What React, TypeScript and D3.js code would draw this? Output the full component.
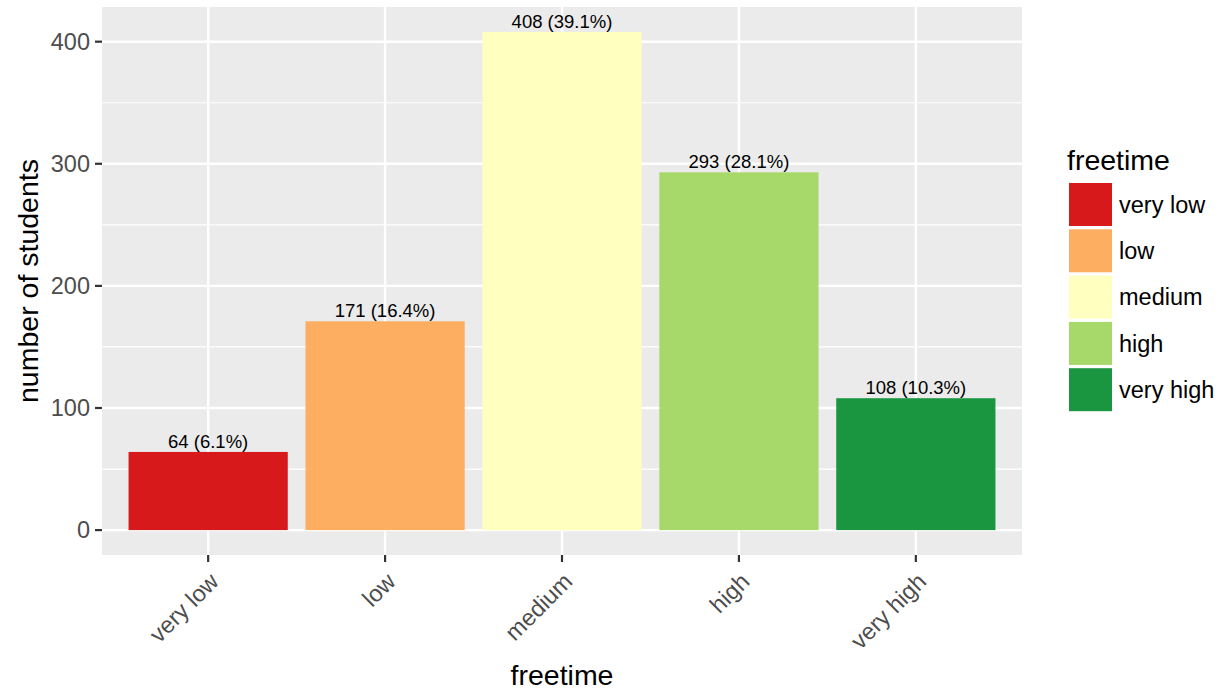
import React from "react";
import * as d3 from "d3";

const categories = ["very low", "low", "medium", "high", "very high"];
const counts = [64, 171, 408, 293, 108];
const percents = ["6.1%", "16.4%", "39.1%", "28.1%", "10.3%"];
const colors = ["#d7191c", "#fdae61", "#ffffbf", "#a6d96a", "#1a9641"];
const yTicks = [0, 100, 200, 300, 400];
const yMinor = [50, 150, 250, 350];

const W = 1225;
const H = 694;
const panel = { left: 102, right: 1022, top: 7, bottom: 555 };
const FONT = "'Liberation Sans', Arial, Helvetica, sans-serif";

export default function App() {
  const x = d3
    .scaleBand<string>()
    .domain(categories)
    .range([panel.left, panel.right])
    .paddingInner(0.1)
    .paddingOuter(0.15);
  const maxV = d3.max(counts) as number;
  const y = d3
    .scaleLinear()
    .domain([-maxV * 0.05, maxV * 1.05])
    .range([panel.bottom, panel.top]);
  const cx = (c: string) => (x(c) as number) + x.bandwidth() / 2;

  return (
    <svg
      width={W}
      height={H}
      style={{ position: "absolute", left: 0, top: 0, background: "#fff" }}
      fontFamily={FONT}
    >
      <rect
        x={panel.left}
        y={panel.top}
        width={panel.right - panel.left}
        height={panel.bottom - panel.top}
        fill="#EBEBEB"
      />
      {yMinor.map((v) => (
        <line key={"mn" + v} x1={panel.left} x2={panel.right} y1={y(v)} y2={y(v)} stroke="#fff" strokeWidth={1.2} />
      ))}
      {yTicks.map((v) => (
        <line key={"mj" + v} x1={panel.left} x2={panel.right} y1={y(v)} y2={y(v)} stroke="#fff" strokeWidth={2.4} />
      ))}
      {categories.map((c) => (
        <line key={"vx" + c} x1={cx(c)} x2={cx(c)} y1={panel.top} y2={panel.bottom} stroke="#fff" strokeWidth={2.4} />
      ))}
      {categories.map((c, i) => (
        <rect
          key={"bar" + c}
          x={x(c)}
          y={y(counts[i])}
          width={x.bandwidth()}
          height={y(0) - y(counts[i])}
          fill={colors[i]}
        />
      ))}
      {categories.map((c, i) => (
        <text key={"lab" + c} x={cx(c)} y={y(counts[i]) - 4} textAnchor="middle" fontSize={18.5} fill="#000">
          {`${counts[i]} (${percents[i]})`}
        </text>
      ))}
      {/* y axis */}
      {yTicks.map((v) => (
        <g key={"yt" + v}>
          <line x1={panel.left - 7} x2={panel.left} y1={y(v)} y2={y(v)} stroke="#333" strokeWidth={2.2} />
          <text x={panel.left - 12} y={y(v)} dy="0.35em" textAnchor="end" fontSize={23.5} fill="#4D4D4D">
            {v}
          </text>
        </g>
      ))}
      {/* x axis */}
      {categories.map((c) => (
        <g key={"xt" + c}>
          <line x1={cx(c)} x2={cx(c)} y1={panel.bottom} y2={panel.bottom + 7} stroke="#333" strokeWidth={2.2} />
          <text
            transform={`translate(${cx(c)},${panel.bottom + 16}) rotate(-45)`}
            dy="0.72em"
            textAnchor="end"
            fontSize={23.5}
            fill="#4D4D4D"
          >
            {c}
          </text>
        </g>
      ))}
      <text x={(panel.left + panel.right) / 2} y={685} textAnchor="middle" fontSize={28.5} fill="#000">
        freetime
      </text>
      <text
        transform={`translate(38,${(panel.top + panel.bottom) / 2}) rotate(-90)`}
        textAnchor="middle"
        fontSize={28.5}
        fill="#000"
      >
        number of students
      </text>
      {/* legend */}
      <text x={1067} y={170} fontSize={28.5} fill="#000">
        freetime
      </text>
      {categories.map((c, i) => (
        <g key={"lg" + c} transform={`translate(1069,${183 + i * 46.3})`}>
          <rect x={0} y={0} width={43} height={43} fill={colors[i]} />
          <text x={50} y={21.5} dy="0.35em" fontSize={23.5} fill="#000">
            {c}
          </text>
        </g>
      ))}
    </svg>
  );
}
